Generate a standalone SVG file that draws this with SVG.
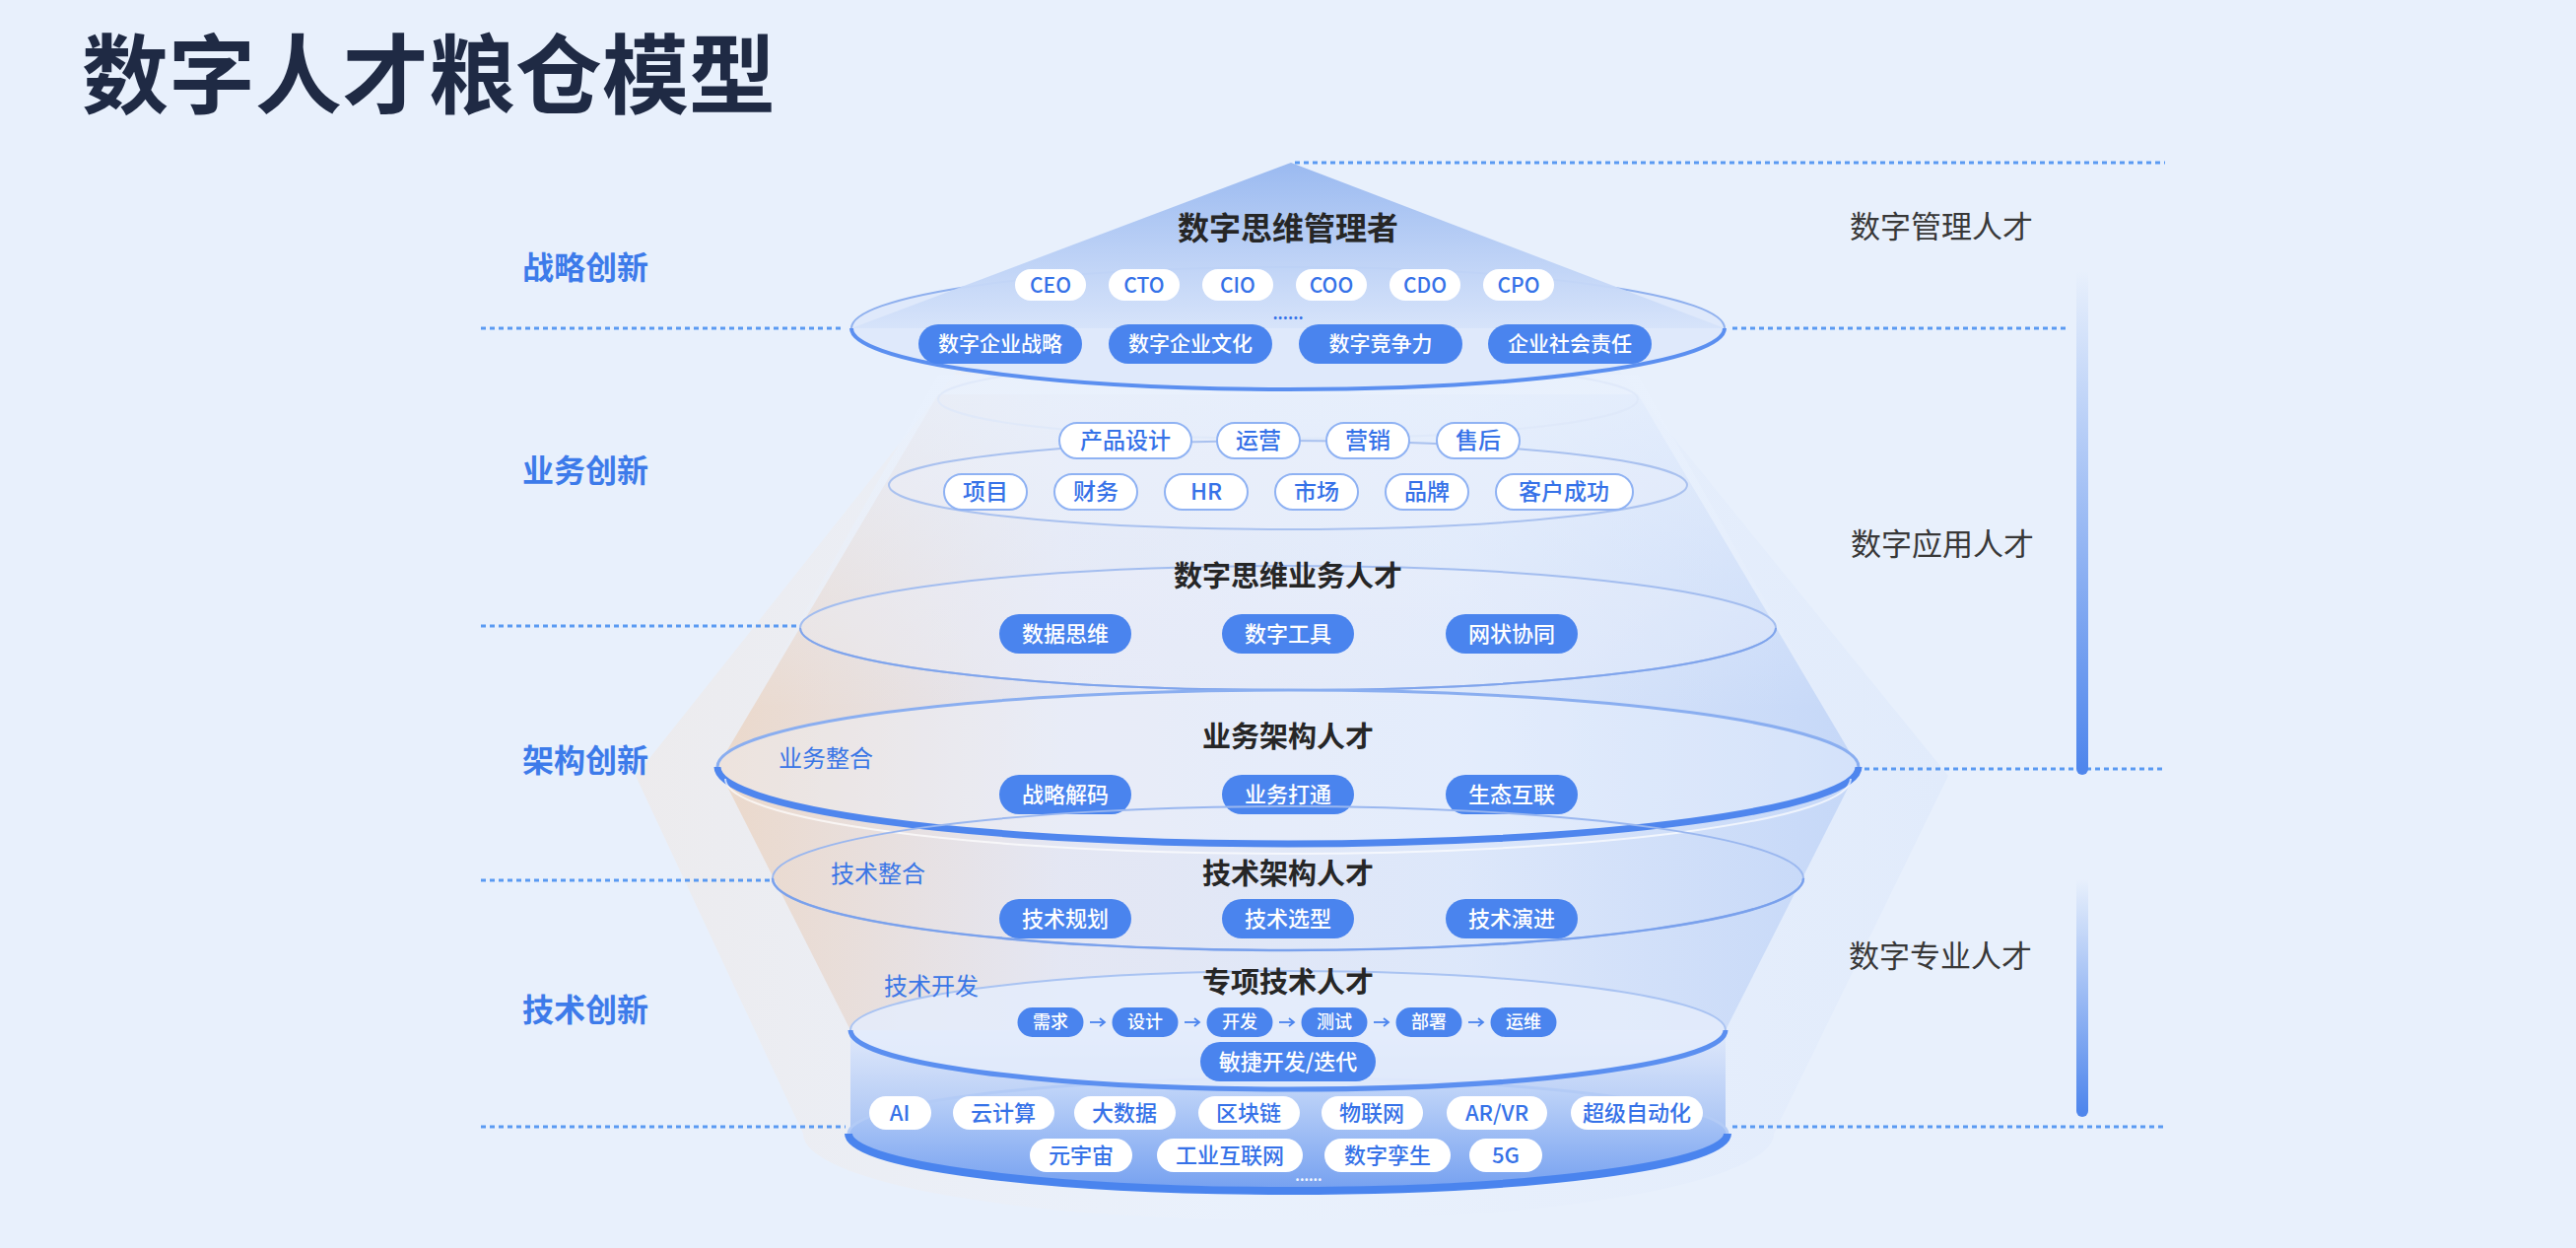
<svg xmlns="http://www.w3.org/2000/svg" width="2614" height="1266" viewBox="0 0 2614 1266">
<defs>
<style>
text{font-family:"Noto Sans CJK SC","Noto Sans",sans-serif}
.title{font-size:88px;font-weight:700;fill:#1f2a44}
.lbl-l{font-size:32px;font-weight:700;fill:#3d7bea}
.lbl-r{font-size:31px;font-weight:400;fill:#383838;text-anchor:middle}
.tier{font-size:29px;font-weight:700;fill:#262626;text-anchor:middle}
.inner{font-size:24px;font-weight:400;fill:#3a76e6}
.pb{fill:#4a84ee}
.pw{fill:#ffffff}
.pwb{fill:#ffffff;stroke:#8fb2f3;stroke-width:2}
.tw{fill:#ffffff;font-size:21px;font-weight:500;text-anchor:middle}
.tb{fill:#3672e8;font-size:21px;font-weight:500;text-anchor:middle}
.guide{stroke:#5a9af2;stroke-width:3;stroke-dasharray:5 4;fill:none}
.flow{stroke:#4a84ee;stroke-width:1.8;fill:none}
</style>
<linearGradient id="triGrad" x1="0" y1="0" x2="0" y2="1">
<stop offset="0" stop-color="#98b8f0" stop-opacity="0.97"/>
<stop offset="1" stop-color="#d6e3fa" stop-opacity="0.95"/>
</linearGradient>
<linearGradient id="funnelGrad" gradientUnits="userSpaceOnUse" x1="728" y1="0" x2="1886" y2="0">
<stop offset="0" stop-color="#ebd5c4"/>
<stop offset="0.3" stop-color="#e3e5f2"/>
<stop offset="0.65" stop-color="#dbe6fa"/>
<stop offset="1" stop-color="#c0d4f7"/>
</linearGradient>
<linearGradient id="funnelFade" gradientUnits="userSpaceOnUse" x1="0" y1="380" x2="0" y2="720">
<stop offset="0" stop-color="#e9f1fd" stop-opacity="1"/>
<stop offset="1" stop-color="#e9f1fd" stop-opacity="0"/>
</linearGradient>
<linearGradient id="glowGrad" gradientUnits="userSpaceOnUse" x1="640" y1="0" x2="1977" y2="0">
<stop offset="0" stop-color="#f3e4d8" stop-opacity="0.7"/>
<stop offset="0.45" stop-color="#eef3fc" stop-opacity="0.4"/>
<stop offset="1" stop-color="#d7e4fa" stop-opacity="0.7"/>
</linearGradient>
<linearGradient id="bar1" gradientUnits="userSpaceOnUse" x1="0" y1="275" x2="0" y2="780">
<stop offset="0" stop-color="#4f86ec" stop-opacity="0"/>
<stop offset="1" stop-color="#4f86ec" stop-opacity="1"/>
</linearGradient>
<linearGradient id="bar2" gradientUnits="userSpaceOnUse" x1="0" y1="892" x2="0" y2="1127">
<stop offset="0" stop-color="#4f86ec" stop-opacity="0"/>
<stop offset="1" stop-color="#4f86ec" stop-opacity="1"/>
</linearGradient>
<linearGradient id="cylGrad" gradientUnits="userSpaceOnUse" x1="0" y1="1045" x2="0" y2="1160">
<stop offset="0" stop-color="#e0e9fb"/>
<stop offset="1" stop-color="#9fbdf3"/>
</linearGradient>
<linearGradient id="plateGrad" gradientUnits="userSpaceOnUse" x1="0" y1="1094" x2="0" y2="1206">
<stop offset="0" stop-color="#c6d9f9"/>
<stop offset="1" stop-color="#76a1f0"/>
</linearGradient>
<marker id="arr" markerUnits="userSpaceOnUse" markerWidth="10" markerHeight="10" refX="8" refY="5" orient="auto">
<path d="M3,1 L8,5 L3,9" fill="none" stroke="#4a84ee" stroke-width="1.8"/>
</marker>
</defs>

<rect width="2614" height="1266" fill="#e8f0fc"/>

<text class="title" x="83" y="108">数字人才粮仓模型</text>

<!-- background glow and funnel body -->
<g id="body">
<path d="M1000 340 L1614 340 L1977 787 L1800 1150 A 492 88 0 0 1 815 1150 L645 787 Z" fill="url(#glowGrad)" opacity="0.6"/>
<path d="M952 400 L1662 400 L1886 778 L1751 1045 L863 1045 L728 778 Z" fill="url(#funnelGrad)" opacity="0.85"/>
<path d="M952 380 L1662 380 L1886 778 L728 778 Z" fill="url(#funnelFade)" opacity="0.8"/>
<ellipse cx="1307" cy="405" rx="355" ry="40" fill="none" stroke="#dde7f9" stroke-width="2" opacity="0.8"/>
</g>

<!-- tier 1: 数字思维管理者 -->
<g id="tier-manager">
<ellipse cx="1307" cy="333" rx="443" ry="62" fill="#dfe9fb" stroke="#8fb0ee" stroke-width="2"/>
<polygon points="1310,165 864,333 1750,333" fill="url(#triGrad)"/>
<path d="M864 333 A 443 62 0 0 0 1750 333" fill="none" stroke="#5b8ff0" stroke-width="4"/>
<text class="tier" x="1307" y="243" style="font-size:32px">数字思维管理者</text>
<rect class="pw" x="1030" y="273" width="72" height="32" rx="16"/>
<rect class="pw" x="1125" y="273" width="72" height="32" rx="16"/>
<rect class="pw" x="1220" y="273" width="72" height="32" rx="16"/>
<rect class="pw" x="1315" y="273" width="72" height="32" rx="16"/>
<rect class="pw" x="1410" y="273" width="72" height="32" rx="16"/>
<rect class="pw" x="1505" y="273" width="72" height="32" rx="16"/>
<text class="tb" x="1066" y="297">CEO</text>
<text class="tb" x="1161" y="297">CTO</text>
<text class="tb" x="1256" y="297">CIO</text>
<text class="tb" x="1351" y="297">COO</text>
<text class="tb" x="1446" y="297">CDO</text>
<text class="tb" x="1541" y="297">CPO</text>
<text x="1307" y="324" style="font-size:16px;font-weight:700;fill:#3672e8;text-anchor:middle">......</text>
<rect class="pb" x="932" y="329" width="166" height="40" rx="20"/>
<rect class="pb" x="1125" y="329" width="166" height="40" rx="20"/>
<rect class="pb" x="1318" y="329" width="166" height="40" rx="20"/>
<rect class="pb" x="1510" y="329" width="166" height="40" rx="20"/>
<text class="tw" x="1015" y="356">数字企业战略</text>
<text class="tw" x="1208" y="356">数字企业文化</text>
<text class="tw" x="1401" y="356">数字竞争力</text>
<text class="tw" x="1593" y="356">企业社会责任</text>
</g>

<!-- tier 2: 业务创新 roles -->
<g id="tier-business-roles">
<ellipse cx="1307" cy="492" rx="405" ry="45" fill="#eef3fd" fill-opacity="0.3" stroke="#a9c1ef" stroke-width="2"/>
<rect class="pwb" x="1075" y="429" width="134" height="36" rx="18"/>
<rect class="pwb" x="1235" y="429" width="84" height="36" rx="18"/>
<rect class="pwb" x="1346" y="429" width="84" height="36" rx="18"/>
<rect class="pwb" x="1458" y="429" width="84" height="36" rx="18"/>
<text class="tb" x="1142" y="455" style="font-size:23px">产品设计</text>
<text class="tb" x="1277" y="455" style="font-size:23px">运营</text>
<text class="tb" x="1388" y="455" style="font-size:23px">营销</text>
<text class="tb" x="1500" y="455" style="font-size:23px">售后</text>
<rect class="pwb" x="958" y="481" width="84" height="36" rx="18"/>
<rect class="pwb" x="1070" y="481" width="84" height="36" rx="18"/>
<rect class="pwb" x="1182" y="481" width="84" height="36" rx="18"/>
<rect class="pwb" x="1294" y="481" width="84" height="36" rx="18"/>
<rect class="pwb" x="1406" y="481" width="84" height="36" rx="18"/>
<rect class="pwb" x="1518" y="481" width="139" height="36" rx="18"/>
<text class="tb" x="1000" y="507" style="font-size:23px">项目</text>
<text class="tb" x="1112" y="507" style="font-size:23px">财务</text>
<text class="tb" x="1224" y="507" style="font-size:23px">HR</text>
<text class="tb" x="1336" y="507" style="font-size:23px">市场</text>
<text class="tb" x="1448" y="507" style="font-size:23px">品牌</text>
<text class="tb" x="1587" y="507" style="font-size:23px">客户成功</text>
</g>

<!-- tier 3: 数字思维业务人才 -->
<g id="tier-digital-business">
<ellipse cx="1307" cy="637" rx="495" ry="63" fill="#eef3fd" fill-opacity="0.3" stroke="#a3bdef" stroke-width="2"/>
<path d="M812 637 A 495 63 0 0 0 1802 637" fill="none" stroke="#7fa4ec" stroke-width="2"/>
<text class="tier" x="1307" y="595">数字思维业务人才</text>
<rect class="pb" x="1014" y="623" width="134" height="40" rx="20"/>
<rect class="pb" x="1240" y="623" width="134" height="40" rx="20"/>
<rect class="pb" x="1467" y="623" width="134" height="40" rx="20"/>
<text class="tw" x="1081" y="651" style="font-size:22px">数据思维</text>
<text class="tw" x="1307" y="651" style="font-size:22px">数字工具</text>
<text class="tw" x="1534" y="651" style="font-size:22px">网状协同</text>
</g>

<!-- tier 4: 业务架构人才 -->
<g id="tier-business-arch">
<ellipse cx="1307" cy="778" rx="579" ry="78" fill="#f2f6fe" fill-opacity="0.35" stroke="#8aaef0" stroke-width="3"/>
<path d="M728 778 A 579 78 0 0 0 1886 778" fill="none" stroke="#4f86ee" stroke-width="7"/>
<path d="M736 790 A 571 76 0 0 0 1878 790" fill="none" stroke="#ffffff" stroke-width="2" stroke-opacity="0.7"/>
<text class="tier" x="1307" y="758">业务架构人才</text>
<text class="inner" x="790" y="778">业务整合</text>
<rect class="pb" x="1014" y="786" width="134" height="40" rx="20"/>
<rect class="pb" x="1240" y="786" width="134" height="40" rx="20"/>
<rect class="pb" x="1467" y="786" width="134" height="40" rx="20"/>
<text class="tw" x="1081" y="814" style="font-size:22px">战略解码</text>
<text class="tw" x="1307" y="814" style="font-size:22px">业务打通</text>
<text class="tw" x="1534" y="814" style="font-size:22px">生态互联</text>
</g>

<!-- tier 5: 技术架构人才 -->
<g id="tier-tech-arch">
<ellipse cx="1307" cy="891" rx="523" ry="73" fill="none" stroke="#9ab7ef" stroke-width="2"/>
<path d="M784 891 A 523 73 0 0 0 1830 891" fill="none" stroke="#7aa1ec" stroke-width="2.5"/>
<text class="tier" x="1307" y="897">技术架构人才</text>
<text class="inner" x="843" y="895">技术整合</text>
<rect class="pb" x="1014" y="912" width="134" height="40" rx="20"/>
<rect class="pb" x="1240" y="912" width="134" height="40" rx="20"/>
<rect class="pb" x="1467" y="912" width="134" height="40" rx="20"/>
<text class="tw" x="1081" y="940" style="font-size:22px">技术规划</text>
<text class="tw" x="1307" y="940" style="font-size:22px">技术选型</text>
<text class="tw" x="1534" y="940" style="font-size:22px">技术演进</text>
</g>

<!-- tier 6: 专项技术人才 (cylinder) -->
<g id="tier-special-tech">
<path d="M863 1045 L863 1150 A 444 58 0 0 0 1751 1150 L1751 1045 Z" fill="url(#cylGrad)" opacity="0.95"/>
<ellipse cx="1307" cy="1150" rx="446" ry="56" fill="url(#plateGrad)" stroke="#b3cbf6" stroke-width="3"/>
<path d="M861 1150 A 446 58 0 0 0 1753 1150" fill="none" stroke="#4a84ee" stroke-width="8"/>
<ellipse cx="1307" cy="1045" rx="444" ry="60" fill="#e4ecfb" fill-opacity="0.85" stroke="#a9c3f2" stroke-width="2"/>
<path d="M863 1045 A 444 60 0 0 0 1751 1045" fill="none" stroke="#5b8ff0" stroke-width="5"/>
<text class="tier" x="1307" y="1007">专项技术人才</text>
<text class="inner" x="897" y="1009">技术开发</text>
<rect class="pb" x="1032.5" y="1022" width="67" height="30" rx="15"/>
<rect class="pb" x="1128.5" y="1022" width="67" height="30" rx="15"/>
<rect class="pb" x="1224.5" y="1022" width="67" height="30" rx="15"/>
<rect class="pb" x="1320.5" y="1022" width="67" height="30" rx="15"/>
<rect class="pb" x="1416.5" y="1022" width="67" height="30" rx="15"/>
<rect class="pb" x="1512.5" y="1022" width="67" height="30" rx="15"/>
<text class="tw" x="1066" y="1043" style="font-size:18px">需求</text>
<text class="tw" x="1162" y="1043" style="font-size:18px">设计</text>
<text class="tw" x="1258" y="1043" style="font-size:18px">开发</text>
<text class="tw" x="1354" y="1043" style="font-size:18px">测试</text>
<text class="tw" x="1450" y="1043" style="font-size:18px">部署</text>
<text class="tw" x="1546" y="1043" style="font-size:18px">运维</text>
<rect class="pb" x="1218" y="1057" width="178" height="40" rx="20"/>
<text class="tw" x="1307" y="1085" style="font-size:22px">敏捷开发/迭代</text>
<rect class="pw" x="882" y="1112" width="63" height="34" rx="17"/>
<rect class="pw" x="967" y="1112" width="103" height="34" rx="17"/>
<rect class="pw" x="1090" y="1112" width="103" height="34" rx="17"/>
<rect class="pw" x="1216" y="1112" width="103" height="34" rx="17"/>
<rect class="pw" x="1341" y="1112" width="103" height="34" rx="17"/>
<rect class="pw" x="1468" y="1112" width="102" height="34" rx="17"/>
<rect class="pw" x="1594" y="1112" width="134" height="34" rx="17"/>
<text class="tb" x="913" y="1137" style="font-size:22px">AI</text>
<text class="tb" x="1018" y="1137" style="font-size:22px">云计算</text>
<text class="tb" x="1141" y="1137" style="font-size:22px">大数据</text>
<text class="tb" x="1267" y="1137" style="font-size:22px">区块链</text>
<text class="tb" x="1392" y="1137" style="font-size:22px">物联网</text>
<text class="tb" x="1519" y="1137" style="font-size:22px">AR/VR</text>
<text class="tb" x="1661" y="1137" style="font-size:22px">超级自动化</text>
<rect class="pw" x="1045" y="1155" width="104" height="34" rx="17"/>
<rect class="pw" x="1174" y="1155" width="148" height="34" rx="17"/>
<rect class="pw" x="1344" y="1155" width="128" height="34" rx="17"/>
<rect class="pw" x="1491" y="1155" width="74" height="34" rx="17"/>
<text class="tb" x="1097" y="1180" style="font-size:22px">元宇宙</text>
<text class="tb" x="1248" y="1180" style="font-size:22px">工业互联网</text>
<text class="tb" x="1408" y="1180" style="font-size:22px">数字孪生</text>
<text class="tb" x="1528" y="1180" style="font-size:22px">5G</text>
<text x="1328" y="1198" style="font-size:14px;font-weight:700;fill:#f4f8ff;text-anchor:middle">......</text>
</g>

<!-- connectors: flow arrows -->
<g id="connectors">
<line class="flow" x1="1106" y1="1037" x2="1121" y2="1037" marker-end="url(#arr)"/>
<line class="flow" x1="1202" y1="1037" x2="1217" y2="1037" marker-end="url(#arr)"/>
<line class="flow" x1="1298" y1="1037" x2="1313" y2="1037" marker-end="url(#arr)"/>
<line class="flow" x1="1394" y1="1037" x2="1409" y2="1037" marker-end="url(#arr)"/>
<line class="flow" x1="1490" y1="1037" x2="1505" y2="1037" marker-end="url(#arr)"/>
</g>

<!-- dotted guide lines -->
<g id="guides">
<line class="guide" x1="488" y1="333" x2="855" y2="333"/>
<line class="guide" x1="488" y1="635" x2="812" y2="635"/>
<line class="guide" x1="488" y1="893" x2="783" y2="893"/>
<line class="guide" x1="488" y1="1143" x2="858" y2="1143"/>
<line class="guide" x1="1314" y1="165" x2="2197" y2="165"/>
<line class="guide" x1="1758" y1="333" x2="2097" y2="333"/>
<line class="guide" x1="1892" y1="780" x2="2197" y2="780"/>
<line class="guide" x1="1758" y1="1143" x2="2197" y2="1143"/>
</g>

<!-- left labels -->
<g id="left-labels">
<text class="lbl-l" x="530" y="283">战略创新</text>
<text class="lbl-l" x="530" y="489">业务创新</text>
<text class="lbl-l" x="530" y="783">架构创新</text>
<text class="lbl-l" x="530" y="1036">技术创新</text>
</g>

<!-- right labels and bars -->
<g id="right-labels">
<line x1="2113" y1="275" x2="2113" y2="780" stroke="url(#bar1)" stroke-width="12" stroke-linecap="round"/>
<line x1="2113" y1="892" x2="2113" y2="1127" stroke="url(#bar2)" stroke-width="12" stroke-linecap="round"/>
<text class="lbl-r" x="1970" y="241">数字管理人才</text>
<text class="lbl-r" x="1971" y="563">数字应用人才</text>
<text class="lbl-r" x="1969" y="981">数字专业人才</text>
</g>
</svg>
